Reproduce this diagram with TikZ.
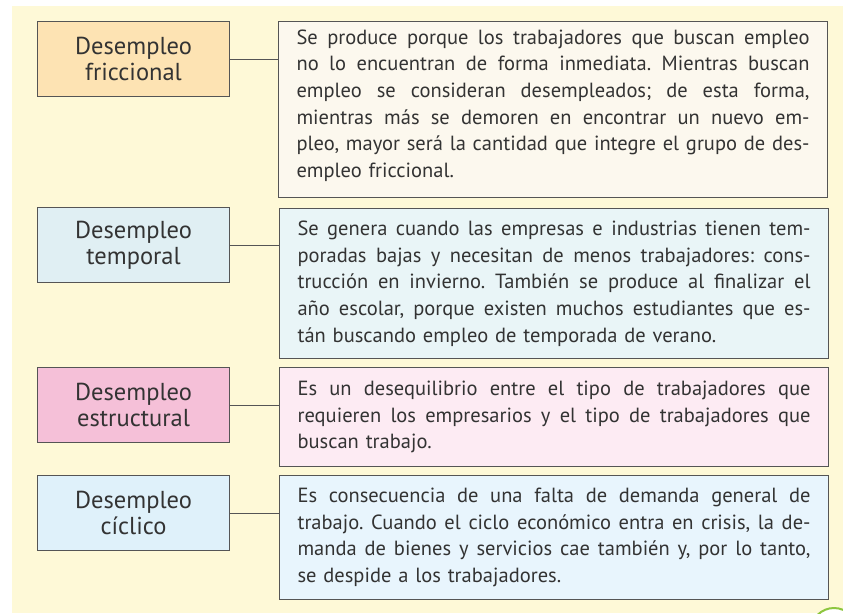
\documentclass[tikz,border=0pt]{standalone}
\usepackage{fontspec}
\usepackage{graphicx}
\setmainfont{PT Sans}
\frenchspacing
\definecolor{bgyellow}{HTML}{FEF9D7}
\definecolor{bordergray}{HTML}{555555}
\definecolor{txtgray}{HTML}{333333}
\definecolor{fricL}{HTML}{FDE3B3}
\definecolor{fricR}{HTML}{FCF8EE}
\definecolor{tempL}{HTML}{E0EFF3}
\definecolor{tempR}{HTML}{E9F5F7}
\definecolor{estrL}{HTML}{F5C0D8}
\definecolor{estrR}{HTML}{FDEBF3}
\definecolor{cicL}{HTML}{DFF1FA}
\definecolor{cicR}{HTML}{E8F5FD}
\definecolor{badgegreen}{HTML}{8DC63F}
\newlength\jlwidth
\newlength\jltw
\setlength\jltw{513pt}
\newcommand{\jl}[1]{\leavevmode{\spaceskip=\fontdimen2\font plus 1em minus \fontdimen4\font
  \settowidth{\jlwidth}{#1}%
  \ifdim\jlwidth>\jltw\resizebox{\jltw}{\height}{#1}\else\hbox to \jltw{#1}\fi}}
\tikzset{
  labelbox/.style={draw=bordergray, line width=1.1pt, anchor=north west,
    minimum width=192pt, minimum height=75pt, align=center, inner sep=0pt,
    text=txtgray, font=\fontsize{24.5}{26.5}\selectfont},
  descbox/.style={draw=bordergray, line width=1.1pt, anchor=north west,
    text width=513pt, inner xsep=18pt, inner ysep=0pt, align=left,
    text=txtgray, font=\fontsize{20.5}{26.6}\selectfont},
  link/.style={draw=bordergray, line width=1.1pt}
}
\begin{document}
\begin{tikzpicture}[x=1pt,y=-1pt]
\useasboundingbox (0,0) rectangle (843,613);
\fill[white] (0,0) rectangle (843,613);
\fill[bgyellow] (12,6) rectangle (843,613);

% row 1
\node[labelbox, fill=fricL] (l1) at (37,21) {Desempleo\\friccional};
\node[descbox, fill=fricR, minimum height=176pt] (r1) at (278,21) {%
\jl{Se produce porque los trabajadores que buscan empleo}\\
\jl{no lo encuentran de forma inmediata. Mientras buscan}\\
\jl{empleo se consideran desempleados; de esta forma,}\\
\jl{mientras más se demoren en encontrar un nuevo em-}\\
\jl{pleo, mayor será la cantidad que integre el grupo de des-}\\
empleo friccional.\par\vspace*{8pt}};
\draw[link] (l1.east) -- (l1.east -| r1.west);

% row 2
\node[labelbox, fill=tempL] (l2) at (37,207) {Desempleo\\temporal};
\node[descbox, fill=tempR, minimum height=150pt] (r2) at (279,208) {%
\jl{Se genera cuando las empresas e industrias tienen tem-}\\
\jl{poradas bajas y necesitan de menos trabajadores: cons-}\\
\jl{trucción en invierno. También se produce al finalizar el}\\
\jl{año escolar, porque existen muchos estudiantes que es-}\\
tán buscando empleo de temporada de verano.};
\draw[link] (l2.east) -- (l2.east -| r2.west);

% row 3
\node[labelbox, fill=estrL] (l3) at (37,367) {Desempleo\\estructural};
\node[descbox, fill=estrR, minimum height=99pt] (r3) at (279,367) {%
\jl{Es un desequilibrio entre el tipo de trabajadores que}\\
\jl{requieren los empresarios y el tipo de trabajadores que}\\
buscan trabajo.};
\draw[link] (l3.east) -- (l3.east -| r3.west);

% row 4
\node[labelbox, fill=cicL] (l4) at (37,475) {Desempleo\\cíclico};
\node[descbox, fill=cicR, minimum height=124pt] (r4) at (279,475) {%
\jl{Es consecuencia de una falta de demanda general de}\\
\jl{trabajo. Cuando el ciclo económico entra en crisis, la de-}\\
\jl{manda de bienes y servicios cae también y, por lo tanto,}\\
se despide a los trabajadores.};
\draw[link] (l4.east) -- (l4.east -| r4.west);

% partial page badge
\begin{scope}
\clip (0,0) rectangle (843,613);
\draw[badgegreen, fill=white, line width=2pt] (834,631) circle (23);
\end{scope}
\end{tikzpicture}
\end{document}
